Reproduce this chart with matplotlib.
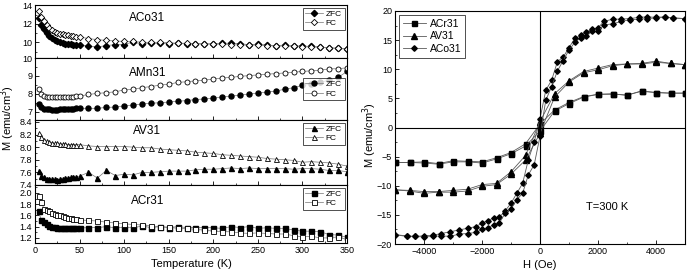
import matplotlib
matplotlib.use('Agg')
import matplotlib.pyplot as plt
from matplotlib.ticker import MultipleLocator

plt.rcParams['font.family'] = ['Liberation Sans', 'DejaVu Sans']
plt.rcParams['xtick.direction'] = 'in'
plt.rcParams['ytick.direction'] = 'in'
plt.rcParams['axes.linewidth'] = 0.8

# temperature grid (K)
T = [4, 7, 10, 13, 16, 19, 22, 25, 28, 31, 34, 37, 40, 43, 46, 50,
     60, 70, 80, 90, 100, 110, 120, 130, 140, 150, 160, 170, 180, 190, 200,
     210, 220, 230, 240, 250, 260, 270, 280, 290, 300, 310, 320, 330, 340, 350]

co_zfc = [12.6, 11.9, 11.4, 11.0, 10.7, 10.5, 10.3, 10.1, 10.0, 9.9, 9.85, 9.8, 9.8, 9.75, 9.75, 9.7,
          9.6, 9.5, 9.65, 9.75, 9.75, 10.05, 9.8, 9.9, 9.9, 9.85, 9.9, 9.85, 9.85, 9.8, 9.85,
          9.9, 9.9, 9.85, 9.75, 9.8, 9.7, 9.65, 9.7, 9.6, 9.6, 9.55, 9.5, 9.4, 9.35, 9.3]
co_fc = [13.4, 12.8, 12.3, 11.9, 11.6, 11.3, 11.1, 11.0, 10.9, 10.85, 10.8, 10.75, 10.7, 10.65, 10.6, 10.6,
         10.4, 10.3, 10.2, 10.15, 10.1, 10.1, 10.0, 10.0, 10.0, 9.95, 9.9, 9.9, 9.85, 9.85, 9.8,
         9.8, 9.75, 9.7, 9.7, 9.7, 9.65, 9.6, 9.6, 9.55, 9.5, 9.5, 9.45, 9.4, 9.35, 9.25]

mn_zfc = [7.44, 7.25, 7.18, 7.15, 7.14, 7.13, 7.13, 7.13, 7.14, 7.14, 7.15, 7.16, 7.17, 7.18, 7.19, 7.2,
          7.2, 7.2, 7.25, 7.27, 7.34, 7.38, 7.44, 7.48, 7.51, 7.55, 7.59, 7.63, 7.69, 7.72, 7.76,
          7.84, 7.88, 7.93, 8.0, 8.05, 8.1, 8.16, 8.26, 8.35, 8.48, 8.54, 8.64, 8.77, 8.92, 9.25]
mn_fc = [8.3, 8.0, 7.88, 7.83, 7.82, 7.81, 7.81, 7.81, 7.81, 7.82, 7.82, 7.83, 7.84, 7.85, 7.86, 7.88,
         7.97, 8.03, 8.07, 8.12, 8.22, 8.26, 8.35, 8.41, 8.49, 8.54, 8.64, 8.68, 8.73, 8.77, 8.83,
         8.89, 8.92, 8.98, 9.02, 9.06, 9.1, 9.13, 9.17, 9.21, 9.25, 9.29, 9.32, 9.4, 9.4, 9.46]

v_zfc = [7.62, 7.55, 7.52, 7.5, 7.5, 7.49, 7.49, 7.48, 7.49, 7.5, 7.51, 7.51, 7.52, 7.52, 7.53, 7.54,
         7.6, 7.51, 7.63, 7.55, 7.57, 7.56, 7.6, 7.6, 7.61, 7.62, 7.62, 7.62, 7.64, 7.65, 7.65,
         7.66, 7.67, 7.66, 7.67, 7.66, 7.66, 7.66, 7.66, 7.65, 7.66, 7.66, 7.65, 7.63, 7.63, 7.61]
v_fc = [8.22, 8.16, 8.12, 8.09, 8.08, 8.07, 8.06, 8.06, 8.05, 8.05, 8.05, 8.04, 8.04, 8.04, 8.04, 8.04,
        8.02, 8.01, 8.01, 8.01, 8.01, 8.0, 7.99, 7.99, 7.97, 7.96, 7.95, 7.94, 7.92, 7.91, 7.9,
        7.88, 7.87, 7.86, 7.85, 7.84, 7.82, 7.81, 7.8, 7.79, 7.76, 7.77, 7.76, 7.75, 7.73, 7.7]

cr_zfc = [1.67, 1.52, 1.48, 1.44, 1.41, 1.4, 1.39, 1.385, 1.385, 1.38, 1.38, 1.38, 1.38, 1.38, 1.38, 1.38,
          1.38, 1.385, 1.4, 1.38, 1.385, 1.38, 1.41, 1.385, 1.4, 1.385, 1.4, 1.385, 1.385, 1.385, 1.38,
          1.37, 1.4, 1.385, 1.4, 1.37, 1.38, 1.37, 1.37, 1.34, 1.32, 1.32, 1.31, 1.26, 1.25, 1.21]
cr_fc = [1.94, 1.84, 1.72, 1.69, 1.67, 1.64, 1.62, 1.61, 1.6, 1.59, 1.57, 1.56, 1.555, 1.545, 1.535, 1.52,
         1.51, 1.5, 1.48, 1.465, 1.45, 1.44, 1.43, 1.415, 1.4, 1.39, 1.37, 1.37, 1.35, 1.34, 1.32,
         1.31, 1.31, 1.29, 1.28, 1.29, 1.28, 1.27, 1.27, 1.24, 1.22, 1.23, 1.2, 1.2, 1.22, 1.17]

# hysteresis loops at 300 K
H_step = [5000, 4500, 4000, 3500, 3000, 2500, 2000, 1500, 1000, 500, 0,
          -500, -1000, -1500, -2000, -2500, -3000, -3500, -4000, -4500, -5000]
cr_desc = [5.9, 5.9, 6.0, 6.2, 5.6, 5.7, 5.7, 5.3, 4.3, 3.0, 0.6,
           -2.8, -4.3, -5.2, -5.9, -5.8, -5.7, -6.2, -5.9, -6.0, -6.0]
cr_asc = [5.9, 5.9, 6.0, 6.3, 5.5, 5.8, 5.7, 5.2, 4.1, 2.8, -0.6,
          -3.2, -4.5, -5.4, -6.1, -5.9, -5.9, -6.3, -6.1, -6.0, -6.0]
v_desc = [10.8, 11.0, 11.4, 11.0, 10.9, 10.8, 10.2, 9.6, 8.0, 5.8, 1.0,
          -4.8, -7.6, -9.6, -9.8, -10.6, -10.8, -11.0, -11.0, -10.8, -10.7]
v_asc = [10.8, 11.0, 11.2, 10.9, 10.9, 10.6, 9.9, 9.4, 7.8, 5.2, -1.0,
         -5.6, -8.0, -9.8, -10.1, -10.9, -11.1, -11.1, -11.3, -10.9, -10.7]

H_co = [5000, 4600, 4300, 4000, 3700, 3400, 3100, 2800, 2500, 2200, 2000, 1800, 1600, 1400,
        1200, 1000, 800, 600, 400, 200, 0, -200, -400, -600, -800, -1000, -1200, -1400,
        -1600, -1800, -2000, -2200, -2500, -2800, -3100, -3400, -3700, -4000, -4300, -4600, -5000]
co_desc = [18.7, 18.8, 19.0, 18.9, 19.0, 18.9, 18.7, 18.6, 18.6, 18.2, 17.1, 16.9, 16.4, 15.8,
           15.3, 13.7, 12.1, 11.3, 8.1, 6.4, 1.5, -2.5, -5.5, -9.6, -11.3, -13.0, -14.3, -15.4,
           -15.5, -16.0, -16.4, -17.0, -17.3, -17.6, -17.9, -18.2, -18.5, -18.6, -18.7, -18.6, -18.4]
co_asc = [18.7, 18.8, 18.9, 18.8, 18.7, 18.6, 18.5, 18.2, 17.8, 17.6, 16.5, 16.5, 15.7, 15.4,
          14.6, 13.3, 11.5, 9.7, 7.0, 4.7, -1.5, -6.4, -8.1, -11.3, -12.4, -14.0, -14.7, -16.4,
          -16.7, -17.2, -17.5, -18.0, -18.2, -18.3, -18.7, -18.6, -18.7, -18.8, -18.7, -18.7, -18.4]

W, Hpx = 687, 279
fig = plt.figure(figsize=(W / 100, Hpx / 100), dpi=100)


def ax_px(x0, y0, x1, y1):
    return fig.add_axes([x0 / W, 1 - y1 / Hpx, (x1 - x0) / W, (y1 - y0) / Hpx])


panels = [
    ('ACo31', co_zfc, co_fc, 'D', (8.3, 14.05), 2, 5, 58, 'upper right', 0.25),
    ('AMn31', mn_zfc, mn_fc, 'o', (6.55, 10.0), 1, 58, 120, 'center right', 0.24),
    ('AV31', v_zfc, v_fc, '^', (7.4, 8.43), 0.2, 120, 185, 'upper right', 0.17),
    ('ACr31', cr_zfc, cr_fc, 's', (1.11, 2.14), 0.2, 185, 243, 'upper right', 0.28),
]
tick_fs = 6.5
for i, (name, zfc, fc, mk, ylim, step, y0, y1, loc, tpos) in enumerate(panels):
    ax = ax_px(35, y0, 347, y1)
    ms = 3.2 if mk == 'D' else 3.6
    ax.plot(T, zfc, color='0.45', lw=0.5, marker=mk, ms=ms,
            mfc='black', mec='black', label='ZFC')
    ax.plot(T, fc, color='0.45', lw=0.5, marker=mk, ms=ms,
            mfc='white', mec='black', mew=0.6, label='FC')
    ax.set_xlim(0, 350)
    ax.set_ylim(*ylim)
    ax.xaxis.set_major_locator(MultipleLocator(50))
    ax.xaxis.set_minor_locator(MultipleLocator(25))
    ax.yaxis.set_major_locator(MultipleLocator(step))
    ax.yaxis.set_minor_locator(MultipleLocator(step / 2))
    ax.tick_params(labelsize=tick_fs, length=3, width=0.6, pad=2)
    ax.tick_params(which='minor', length=1.5, width=0.5)
    if step < 1:
        ax.yaxis.set_major_formatter(plt.FormatStrFormatter('%.1f'))
    if i < 3:
        ax.tick_params(labelbottom=False)
    ax.text(126, ylim[1] - (ylim[1] - ylim[0]) * tpos, name, fontsize=8.5,
            ha='center', va='center')
    leg = ax.legend(loc=loc, fontsize=6, frameon=True, fancybox=False,
                    handlelength=2.2, borderpad=0.3, labelspacing=0.2,
                    handletextpad=0.3, borderaxespad=0.3)
    leg.get_frame().set_edgecolor('black')
    leg.get_frame().set_linewidth(0.6)
    if i == 3:
        ax.set_xlabel('Temperature (K)', fontsize=8, labelpad=3)

fig.text(8 / W, 1 - 118 / Hpx, 'M (emu/cm$^3$)', rotation=90, fontsize=8,
         ha='center', va='center')

# right panel
ax = ax_px(395, 11, 685, 244)
loops = [
    ('ACr31', H_step, cr_desc, cr_asc, 's', 3.6),
    ('AV31', H_step, v_desc, v_asc, '^', 4.0),
    ('ACo31', H_co, co_desc, co_asc, 'D', 2.8),
]
for name, hh, md, ma, mk, ms in loops:
    ax.plot(hh, md, color='0.35', lw=0.6, marker=mk, ms=ms, mfc='black',
            mec='black', label=name)
    ax.plot(hh, ma, color='0.35', lw=0.6, marker=mk, ms=ms, mfc='black',
            mec='black')
ax.axhline(0, color='black', lw=0.8)
ax.axvline(0, color='black', lw=0.8)
ax.set_xlim(-5000, 5000)
ax.set_ylim(-20, 20)
ax.xaxis.set_major_locator(MultipleLocator(2000))
ax.xaxis.set_minor_locator(MultipleLocator(1000))
ax.yaxis.set_major_locator(MultipleLocator(5))
ax.yaxis.set_minor_locator(MultipleLocator(2.5))
ax.tick_params(labelsize=tick_fs, length=3, width=0.6, pad=2)
ax.tick_params(which='minor', length=1.5, width=0.5)
ax.set_xlabel('H (Oe)', fontsize=8, labelpad=3)
ax.text(2300, -13.6, 'T=300 K', fontsize=8, ha='center', va='center')
leg = ax.legend(loc='upper left', fontsize=7.5, frameon=True, fancybox=False,
                handlelength=2.2, borderpad=0.35, labelspacing=0.25,
                handletextpad=0.4, borderaxespad=0.4)
leg.get_frame().set_edgecolor('black')
leg.get_frame().set_linewidth(0.6)
fig.text(370 / W, 1 - 135 / Hpx, 'M (emu/cm$^3$)', rotation=90, fontsize=8,
         ha='center', va='center')

fig.savefig('out.png', dpi=100)
